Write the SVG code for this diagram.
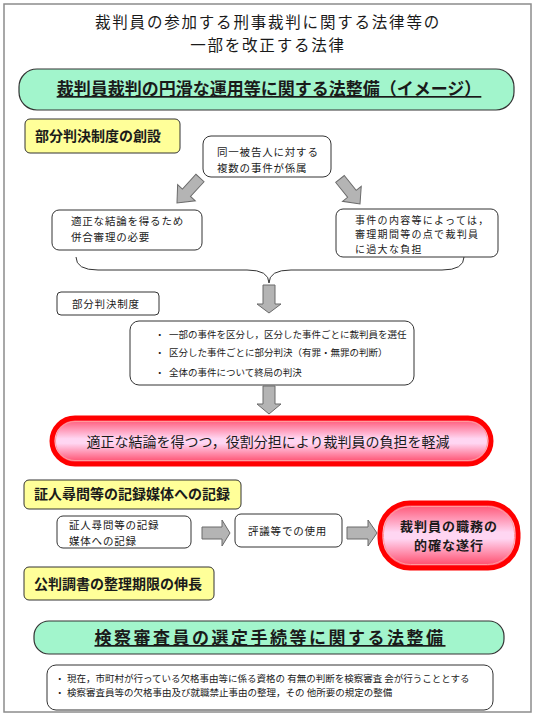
<svg xmlns="http://www.w3.org/2000/svg" width="540" height="716" viewBox="0 0 540 716">
<defs>
<style>
text{font-family:"Noto Sans CJK JP","Noto Sans CJK SC",sans-serif;fill:#1a1a1a}
.box{fill:#fff;stroke:#333;stroke-width:1}
.green{fill:#a2f5cc;stroke:#333;stroke-width:1.2}
.yellow{fill:#ffff99;stroke:#333;stroke-width:1}
.garrow{fill:#b4b4b4;stroke:#6a6a6a;stroke-width:1}
.pill{fill:url(#pinkgrad);stroke:#ff0000;stroke-width:5}
.pillin{fill:none;stroke:#ff9a9a;stroke-width:1}
.t12{font-size:10.5px;letter-spacing:0.8px}
.t11{font-size:10px;letter-spacing:1.3px}
.t10{font-size:9.5px}
.tb{font-size:14px;font-weight:bold}
</style>
<linearGradient id="pinkgrad" x1="0" y1="0" x2="0" y2="1">
<stop offset="0" stop-color="#ff4d6d"/>
<stop offset="0.45" stop-color="#ffd6f2"/>
<stop offset="0.55" stop-color="#ffd6f2"/>
<stop offset="1" stop-color="#ff4060"/>
</linearGradient>
</defs>
<rect x="0" y="0" width="540" height="716" fill="#fff"/>
<rect x="4" y="4" width="527" height="708" fill="#fff" stroke="#8c8c8c" stroke-width="1.5"/>

<g id="title">
<text x="268" y="27.5" font-size="15.5" letter-spacing="1.8" text-anchor="middle">裁判員の参加する刑事裁判に関する法律等の</text>
<text x="268" y="50.5" font-size="15.5" letter-spacing="1.8" text-anchor="middle">一部を改正する法律</text>
</g>

<g id="heading1">
<rect class="green" x="19" y="69" width="495" height="41" rx="18"/>
<text x="269" y="95" font-size="17" font-weight="bold" text-anchor="middle" text-decoration="underline">裁判員裁判の円滑な運用等に関する法整備（イメージ）</text>
</g>

<g id="label-bubun">
<rect class="yellow" x="25" y="119" width="155" height="34" rx="5"/>
<text class="tb" x="35" y="141">部分判決制度の創設</text>
</g>

<g id="node-keizoku">
<rect class="box" x="203" y="136" width="128" height="41" rx="8"/>
<text class="t12" x="217" y="156">同一被告人に対する</text>
<text class="t12" x="217" y="171.5">複数の事件が係属</text>
</g>

<g id="node-heigou">
<rect class="box" x="52" y="210" width="150" height="40" rx="7"/>
<text class="t12" x="71" y="225">適正な結論を得るため</text>
<text class="t12" x="71" y="240.5">併合審理の必要</text>
</g>

<g id="node-futan">
<rect class="box" x="336" y="209" width="162" height="48" rx="7"/>
<text class="t11" x="355" y="223.5">事件の内容等によっては，</text>
<text class="t11" x="355" y="238.1">審理期間等の点で裁判員</text>
<text class="t11" x="355" y="252.7">に過大な負担</text>
</g>

<g id="label-seido">
<rect class="box" x="57" y="292" width="102" height="23" rx="4"/>
<text class="t12" x="72" y="308">部分判決制度</text>
</g>

<g id="node-seido">
<rect class="box" x="130" y="321" width="284" height="64" rx="9"/>
<text class="t10" x="155" y="338">・</text>
<text class="t10" x="169" y="338">一部の事件を区分し，区分した事件ごとに裁判員を選任</text>
<text class="t10" x="155" y="356">・</text>
<text class="t10" x="169" y="356">区分した事件ごとに部分判決（有罪・無罪の判断）</text>
<text class="t10" x="155" y="376">・</text>
<text class="t10" x="169" y="376">全体の事件について終局の判決</text>
</g>

<g id="result1">
<rect class="pill" x="52" y="418" width="439" height="46" rx="23"/>
<rect class="pillin" x="55.5" y="421.5" width="432" height="39" rx="19.5"/>
<text x="268" y="447" font-size="14" text-anchor="middle">適正な結論を得つつ，役割分担により裁判員の負担を軽減</text>
</g>

<g id="label-kiroku">
<rect class="yellow" x="24" y="480" width="217" height="29" rx="5"/>
<text class="tb" x="34" y="499">証人尋問等の記録媒体への記録</text>
</g>

<g id="node-kiroku">
<rect class="box" x="57" y="516" width="134" height="32" rx="6"/>
<text class="t12" x="69" y="529">証人尋問等の記録</text>
<text class="t12" x="69" y="544.5">媒体への記録</text>
</g>

<g id="node-shiyou">
<rect class="box" x="235" y="514" width="107" height="33" rx="6"/>
<text class="t12" x="248" y="535">評議等での使用</text>
</g>

<g id="result2">
<rect class="pill" x="380" y="503" width="138" height="65" rx="30"/>
<rect class="pillin" x="383.5" y="506.5" width="131" height="58" rx="27"/>
<text x="449" y="530.5" font-size="13" letter-spacing="1" font-weight="bold" text-anchor="middle">裁判員の職務の</text>
<text x="449" y="549.5" font-size="13" letter-spacing="1" font-weight="bold" text-anchor="middle">的確な遂行</text>
</g>

<g id="label-kigen">
<rect class="yellow" x="24" y="567" width="190" height="33" rx="5"/>
<text class="tb" x="34" y="589">公判調書の整理期限の伸長</text>
</g>

<g id="heading2">
<rect class="green" x="34" y="621" width="470" height="33" rx="15"/>
<text x="270" y="644" font-size="17" font-weight="bold" text-anchor="middle" letter-spacing="2.5" text-decoration="underline">検察審査員の選定手続等に関する法整備</text>
</g>

<g id="node-kensatsu">
<rect class="box" x="47" y="665" width="446" height="45" rx="9"/>
<text class="t10" x="55" y="682">・</text>
<text class="t10" x="67" y="682">現在，市町村が行っている欠格事由等に係る資格の 有無の判断を検察審査 会が行うこととする</text>
<text class="t10" x="55" y="696">・</text>
<text class="t10" x="67" y="696">検察審査員等の欠格事由及び就職禁止事由の整理，その 他所要の規定の整備</text>
</g>

<g id="connectors">
<path d="M76,257 Q76,270 98,270 L247,270 Q269,270 269,283 Q269,270 291,270 L442,270 Q464,270 464,257" fill="none" stroke="#333" stroke-width="1"/>
<polygon class="garrow" transform="translate(200,178) rotate(132.6)" points="0,-5.5 20,-5.5 20,-12 34,0 20,12 20,5.5 0,5.5"/>
<polygon class="garrow" transform="translate(340,179) rotate(51.3)" points="0,-5.5 19,-5.5 19,-12 32,0 19,12 19,5.5 0,5.5"/>
<polygon class="garrow" points="263,285 275,285 275,304 281,304 269,313 257,304 263,304"/>
<polygon class="garrow" points="263,386 275,386 275,404 281,404 269,414 257,404 263,404"/>
<polygon class="garrow" points="202,527 222,527 222,520 230,533 222,546 222,539 202,539"/>
<polygon class="garrow" points="347,527 368,527 368,520 377,533 368,546 368,539 347,539"/>
</g>
</svg>
